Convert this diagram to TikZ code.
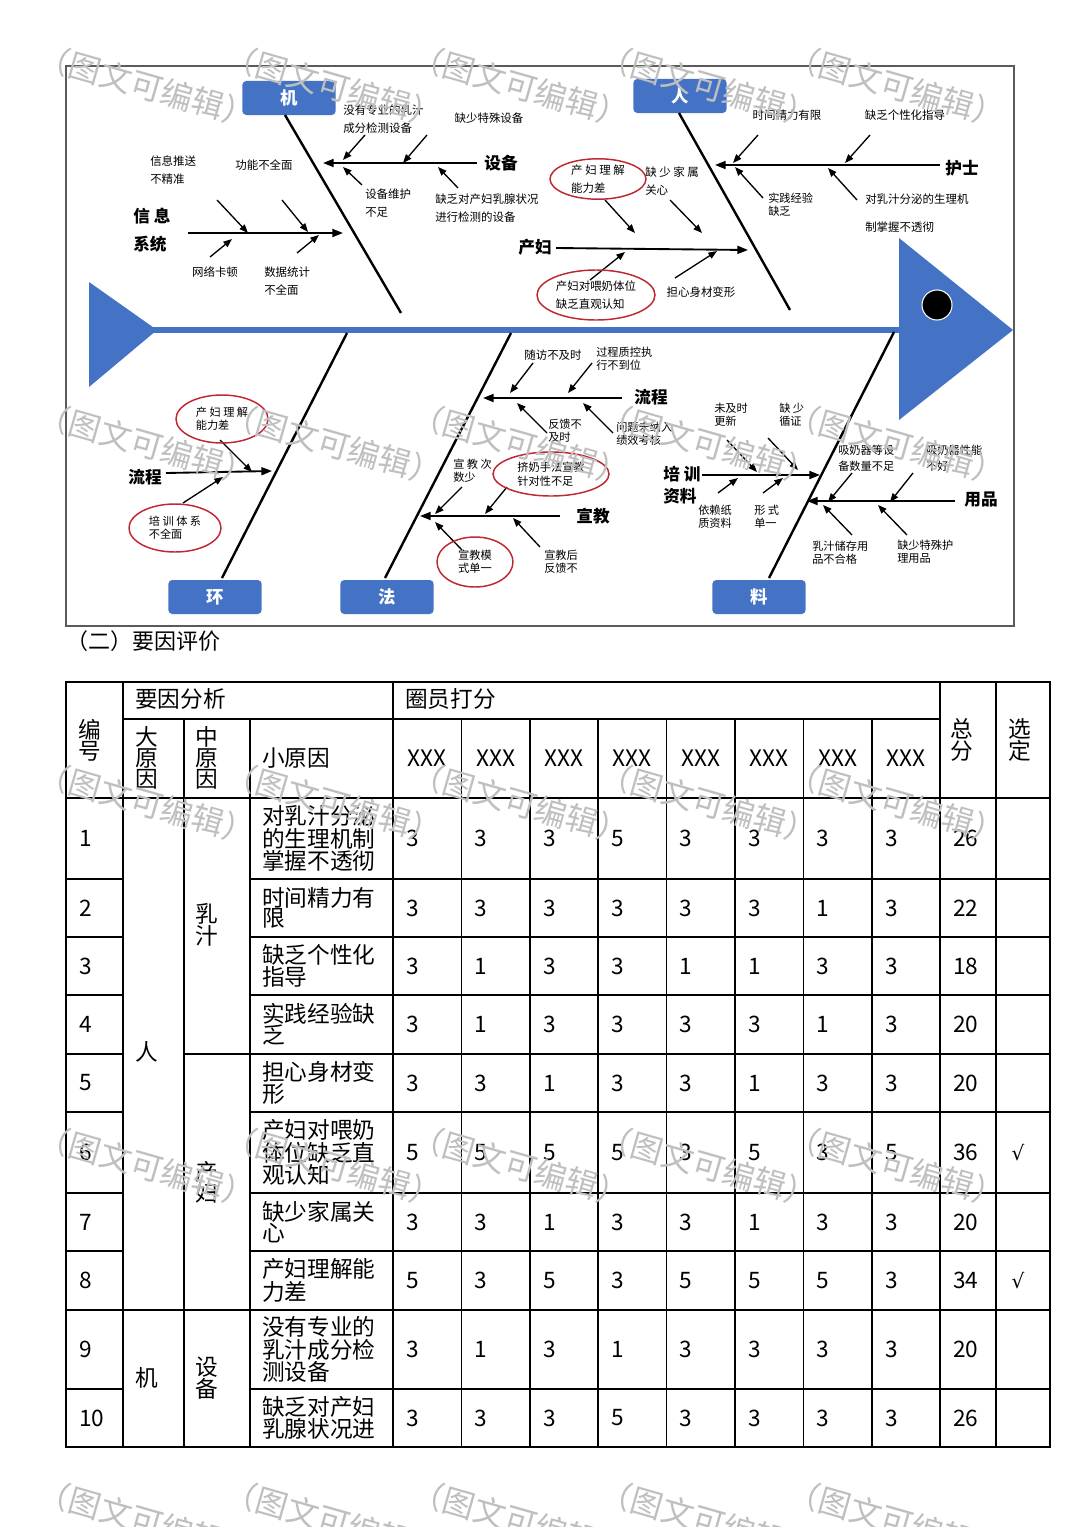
\documentclass[tikz,border=0pt]{standalone}
\usepackage{fontspec}
\setmainfont{Noto Sans CJK SC}
\newfontfamily\symfont{DejaVu Sans}
\usetikzlibrary{shapes.geometric,arrows.meta}
\definecolor{myblue}{RGB}{68,114,196}
\definecolor{myred}{RGB}{190,40,50}
\definecolor{framegray}{RGB}{90,90,90}
\newcommand\fbarrow[3]{\coordinate (#1s) at (#2); \coordinate (#1e) at (#3); \draw[arr] (#1s) -- (#1e);}
\newcommand\fbbone[3]{\coordinate (#1s) at (#2); \coordinate (#1e) at (#3); \draw[bone] (#1s) -- (#1e);}
\newcommand\fbdiag[3]{\coordinate (#1s) at (#2); \coordinate (#1e) at (#3); \draw[diag] (#1s) -- (#1e);}
\newcommand\scorerow[3]{\foreach \v [count=\i] in {#3} {\node[tb, anchor=west] (#1c\i) at ({393+68.4*(\i-1)+13}, #2) {\v};}}
\begin{document}
\begin{tikzpicture}[x=0.75pt,y=-0.75pt,
  bluebox/.style={fill=myblue, rounded corners=3pt, minimum width=70pt, minimum height=25.5pt, text=white, font=\bfseries\fontsize{13}{13}\selectfont, inner sep=0pt},
  diag/.style={line width=1.8pt, black},
  bone/.style={line width=1.4pt, -{Triangle[length=8pt,width=6pt]}},
  arr/.style={line width=1pt, -{Triangle[length=6.5pt,width=5pt]}},
  lbl/.style={font=\fontsize{8.6}{13.5}\selectfont, align=left, inner sep=0pt},
  lblt/.style={font=\fontsize{8.4}{9.8}\selectfont, align=left, inner sep=0pt},
  cat/.style={font=\bfseries\fontsize{12.5}{21}\selectfont, align=left, inner sep=0pt},
  redell/.style={ellipse, draw=myred, line width=1.1pt, inner sep=0pt},
  tb/.style={font=\fontsize{17}{15.5}\selectfont, inner sep=0pt, align=left},
  tv/.style={font=\fontsize{17}{16}\selectfont, inner sep=0pt, align=center},
  tline/.style={line width=1.3pt},
  wm/.style={font=\fontsize{24}{24}\selectfont, text=black!25, inner sep=0pt}]
\useasboundingbox[fill=white] (0,0) rectangle (1080,1527);

% ---------- fishbone frame ----------
\draw[framegray, line width=0.9pt] (66,66) rectangle (1014,626);
\fill[myblue] (89,282) -- (157,330) -- (89,387) -- cycle;
\fill[myblue] (899,238) -- (1013,330) -- (899,420) -- cycle;
\draw[myblue, line width=4.5pt] (150,330) -- (905,330);
\fill[black] (937,305) circle [radius=11.25pt];
\draw[white, line width=0.8pt] (937,305) circle [radius=11.25pt];

% boxes
\node[bluebox] (bji) at (289,98) {机};
\node[bluebox] (bren) at (680,96) {人};
\node[bluebox] (bhuan) at (215,597) {环};
\node[bluebox] (bfa) at (387,597) {法};
\node[bluebox] (bliao) at (759,597) {料};

% diagonal bones
\fbdiag{d1}{285,115}{401,313}
\fbdiag{d2}{679,113}{790,310}
\fbdiag{d3}{347,333}{222,578}
\fbdiag{d4}{511,333}{385,578}
\fbdiag{d5}{894,332}{769,578}

% sub bones
\fbbone{s1}{477,163}{323,163}
\fbbone{s2}{188,233}{343,233}
\fbbone{s3}{940,165}{715,165}
\fbbone{s4}{556,248}{748,250}
\fbbone{s5}{166,473}{272,471}
\fbbone{s6}{622,398}{483,398}
\fbbone{s7}{560,516}{420,516}
\fbbone{s8}{702,475}{820,475}
\fbbone{s9}{955,501}{807,501}

% small arrows
\fbarrow{a1}{365,135}{343,160}
\fbarrow{a2}{427,135}{403,163}
\fbarrow{a3}{362,185}{343,167}
\fbarrow{a4}{458,188}{438,167}
\fbarrow{b1}{217,200}{248,233}
\fbarrow{b2}{282,200}{308,232}
\fbarrow{b3}{210,257}{232,239}
\fbarrow{b4}{297,253}{319,235}
\fbarrow{c1}{758,135}{733,163}
\fbarrow{c2}{870,135}{845,163}
\fbarrow{c3}{763,198}{735,167}
\fbarrow{c4}{857,200}{828,168}
\fbarrow{e1}{605,200}{635,233}
\fbarrow{e2}{670,200}{702,233}
\fbarrow{e3}{590,280}{625,252}
\fbarrow{e4}{675,278}{717,251}
\fbarrow{f1}{220,440}{252,472}
\fbarrow{f2}{183,503}{223,477}
\fbarrow{g1}{533,363}{510,393}
\fbarrow{g2}{592,363}{568,393}
\fbarrow{g3}{547,433}{517,403}
\fbarrow{g4}{613,433}{583,403}
\fbarrow{h1}{462,487}{435,514}
\fbarrow{h2}{507,487}{485,514}
\fbarrow{h3}{462,550}{435,522}
\fbarrow{h4}{540,547}{513,518}
\fbarrow{i1}{727,440}{757,472}
\fbarrow{i2}{768,438}{798,470}
\fbarrow{i3}{718,493}{738,478}
\fbarrow{i4}{763,493}{783,478}
\fbarrow{j1}{852,473}{828,502}
\fbarrow{j2}{913,473}{890,502}
\fbarrow{j3}{852,535}{823,505}
\fbarrow{j4}{907,535}{878,505}

% category labels
\node[cat] (lsb) at (501,163) {设备};
\node[cat, anchor=west] (lxx) at (133,230) {信 息\\系统};
\node[cat] (lhs) at (962,168) {护士};
\node[cat] (lcf) at (535,247) {产妇};
\node[cat] (llc1) at (145,477) {流程};
\node[cat] (llc2) at (651,397) {流程};
\node[cat] (lxj) at (593,516) {宣教};
\node[cat, anchor=west, font=\bfseries\fontsize{12.5}{16.5}\selectfont] (lpx) at (663,485) {培 训\\资料};
\node[cat] (lyp) at (981,500) {用品};

% small labels (top)
\node[lbl, anchor=west] (l1) at (343,119) {没有专业的乳汁\\成分检测设备};
\node[lbl] (l2) at (489,118) {缺少特殊设备};
\node[lbl, anchor=west] (l3) at (365,203) {设备维护\\不足};
\node[lbl, anchor=west] (l4) at (435,208) {缺乏对产妇乳腺状况\\进行检测的设备};
\node[lbl, anchor=west] (l5) at (150,170) {信息推送\\不精准};
\node[lbl] (l6) at (264,165) {功能不全面};
\node[lbl] (l7) at (215,272) {网络卡顿};
\node[lbl, anchor=west] (l8) at (264,281) {数据统计\\不全面};
\node[lbl] (l9) at (787,115) {时间精力有限};
\node[lbl] (l10) at (905,115) {缺乏个性化指导};
\node[lblt, anchor=west] (l11) at (768,205) {实践经验\\缺乏};
\node[lbl, anchor=west, font=\fontsize{8.6}{21}\selectfont] (l12) at (865,213) {对乳汁分泌的生理机\\制掌握不透彻};
\node[lbl, redell, minimum width=72pt, minimum height=28.5pt] (el1) at (598,179) {产 妇 理 解\\能力差};
\node[lbl, anchor=west] (l13) at (645,181) {缺 少 家 属\\关心};
\node[lbl, redell, minimum width=88.5pt, minimum height=37.5pt] (el2) at (596,295) {产妇对喂奶体位\\缺乏直观认知};
\node[lbl] (l14) at (701,292) {担心身材变形};

% small labels (bottom)
\node[lblt, redell, minimum width=69pt, minimum height=36pt] (el3) at (222,419) {产 妇 理 解\\能力差};
\node[lblt, redell, minimum width=69pt, minimum height=36pt] (el4) at (175,528) {培 训 体 系\\不全面};
\node[lbl] (l15) at (553,355) {随访不及时};
\node[lblt, anchor=west] (l16) at (596,359) {过程质控执\\行不到位};
\node[lblt, anchor=west] (l17) at (548,431) {反馈不\\及时};
\node[lblt, anchor=west] (l18) at (616,434) {问题未纳入\\绩效考核};
\node[lblt, anchor=west] (l19) at (453,471) {宣 教 次\\数少};
\node[lblt, redell, minimum width=87pt, minimum height=33pt, font=\fontsize{8.4}{10.5}\selectfont] (el5) at (551,474) {挤奶手法宣教\\针对性不足};
\node[lblt, redell, minimum width=57pt, minimum height=37.5pt] (el6) at (475,562) {宣教模\\式单一};
\node[lblt, anchor=west] (l20) at (544,562) {宣教后\\反馈不};
\node[lblt, anchor=west] (l21) at (714,415) {未及时\\更新};
\node[lblt, anchor=west] (l22) at (779,415) {缺 少\\循证};
\node[lblt, anchor=west] (l23) at (698,517) {依赖纸\\质资料};
\node[lblt, anchor=west] (l24) at (754,517) {形 式\\单一};
\node[lblt, anchor=west, font=\fontsize{8.4}{12}\selectfont] (l25) at (838,458) {吸奶器等设\\备数量不足};
\node[lblt, anchor=west, font=\fontsize{8.4}{12}\selectfont] (l26) at (926,458) {吸奶器性能\\不好};
\node[lblt, anchor=west] (l27) at (812,553) {乳汁储存用\\品不合格};
\node[lblt, anchor=west] (l28) at (897,552) {缺少特殊护\\理用品};

% ---------- heading ----------
\node[anchor=west, inner sep=0pt, font=\fontsize{16.5}{16.5}\selectfont] (head) at (66,641) {（二）要因评价};

% ---------- table ----------
\draw[tline] (66,682) rectangle (1050,1447);
\draw[tline] (123,719) -- (940,719);
\draw[tline] (66,798) -- (1050,798);
\foreach \yy in {879,937,995,1112,1193,1251,1389} {
  \draw[tline] (66,\yy) -- (123,\yy);
  \draw[tline] (250,\yy) -- (1050,\yy);
}
\draw[tline] (66,1054) -- (123,1054);
\draw[tline] (184,1054) -- (1050,1054);
\draw[tline] (66,1310) -- (1050,1310);
\draw[tline] (123,682) -- (123,1447);
\draw[tline] (184,719) -- (184,1447);
\draw[tline] (250,719) -- (250,1447);
\draw[tline] (393,682) -- (393,1447);
\foreach \xx in {461.4,529.8,598.2,666.6,735,803.4,871.8} {\draw[tline] (\xx,719) -- (\xx,1447);}
\draw[tline] (940,682) -- (940,1447);
\draw[tline] (996,682) -- (996,1447);

% header texts
\node[tv] (hbh) at (90,740) {编\\号};
\node[tb, anchor=west] (hyy) at (135,699) {要因分析};
\node[tb, anchor=west] (hqy) at (405,699) {圈员打分};
\node[tv] (hdy) at (147,758) {大\\原\\因};
\node[tv] (hzy) at (207,758) {中\\原\\因};
\node[tb, anchor=west] (hxy) at (262,758) {小原因};
\foreach \i in {1,...,8} {\node[tb] (hx\i) at ({393+68.4*(\i-0.5)},758) {XXX};}
\node[tv] (hzf) at (962,740) {总\\分};
\node[tv] (hxd) at (1020,740) {选\\定};

% body: big / mid causes
\node[tb] (bren2) at (147,1052) {人};
\node[tb] (bji2) at (147,1378) {机};
\node[tv] (mrz) at (207,925) {乳\\汁};
\node[tv] (mcf) at (207,1182) {产\\妇};
\node[tv] (msb) at (207,1378) {设\\备};

% rows
\node[tb, anchor=west] (n1) at (79,838.5) {1};
\node[tb, anchor=west] (t1) at (262,838.5) {对乳汁分泌\\的生理机制\\掌握不透彻};
\scorerow{r1}{838.5}{3,3,3,5,3,3,3,3}
\node[tb, anchor=west] (z1) at (953,838.5) {26};

\node[tb, anchor=west] (n2) at (79,908) {2};
\node[tb, anchor=west] (t2) at (262,908) {时间精力有\\限};
\scorerow{r2}{908}{3,3,3,3,3,3,1,3}
\node[tb, anchor=west] (z2) at (953,908) {22};

\node[tb, anchor=west] (n3) at (79,966) {3};
\node[tb, anchor=west] (t3) at (262,966) {缺乏个性化\\指导};
\scorerow{r3}{966}{3,1,3,3,1,1,3,3}
\node[tb, anchor=west] (z3) at (953,966) {18};

\node[tb, anchor=west] (n4) at (79,1024.5) {4};
\node[tb, anchor=west] (t4) at (262,1024.5) {实践经验缺\\乏};
\scorerow{r4}{1024.5}{3,1,3,3,3,3,1,3}
\node[tb, anchor=west] (z4) at (953,1024.5) {20};

\node[tb, anchor=west] (n5) at (79,1083) {5};
\node[tb, anchor=west] (t5) at (262,1083) {担心身材变\\形};
\scorerow{r5}{1083}{3,3,1,3,3,1,3,3}
\node[tb, anchor=west] (z5) at (953,1083) {20};

\node[tb, anchor=west] (n6) at (79,1152.5) {6};
\node[tb, anchor=west] (t6) at (262,1152.5) {产妇对喂奶\\体位缺乏直\\观认知};
\scorerow{r6}{1152.5}{5,5,5,5,3,5,3,5}
\node[tb, anchor=west] (z6) at (953,1152.5) {36};
\node[tb, font=\symfont\fontsize{15}{15}\selectfont] (x6) at (1018,1152.5) {√};

\node[tb, anchor=west] (n7) at (79,1222) {7};
\node[tb, anchor=west] (t7) at (262,1222) {缺少家属关\\心};
\scorerow{r7}{1222}{3,3,1,3,3,1,3,3}
\node[tb, anchor=west] (z7) at (953,1222) {20};

\node[tb, anchor=west] (n8) at (79,1280.5) {8};
\node[tb, anchor=west] (t8) at (262,1280.5) {产妇理解能\\力差};
\scorerow{r8}{1280.5}{5,3,5,3,5,5,5,3}
\node[tb, anchor=west] (z8) at (953,1280.5) {34};
\node[tb, font=\symfont\fontsize{15}{15}\selectfont] (x8) at (1018,1280.5) {√};

\node[tb, anchor=west] (n9) at (79,1349.5) {9};
\node[tb, anchor=west] (t9) at (262,1349.5) {没有专业的\\乳汁成分检\\测设备};
\scorerow{r9}{1349.5}{3,1,3,1,3,3,3,3}
\node[tb, anchor=west] (z9) at (953,1349.5) {20};

\node[tb, anchor=west] (n10) at (79,1418) {10};
\node[tb, anchor=west] (t10) at (262,1418) {缺乏对产妇\\乳腺状况进};
\scorerow{r10}{1418}{3,3,3,5,3,3,3,3}
\node[tb, anchor=west] (z10) at (953,1418) {26};

% ---------- watermark ----------
\foreach \wy [count=\r] in {55,413,772,1135,1490} {
  \foreach \wx [count=\c] in {53,240,427,615,803} {
    \node[wm, anchor=west, rotate=-16] (wm\r-\c) at (\wx-14,\wy) {（图文可编辑）};
  }
}
\end{tikzpicture}
\end{document}
